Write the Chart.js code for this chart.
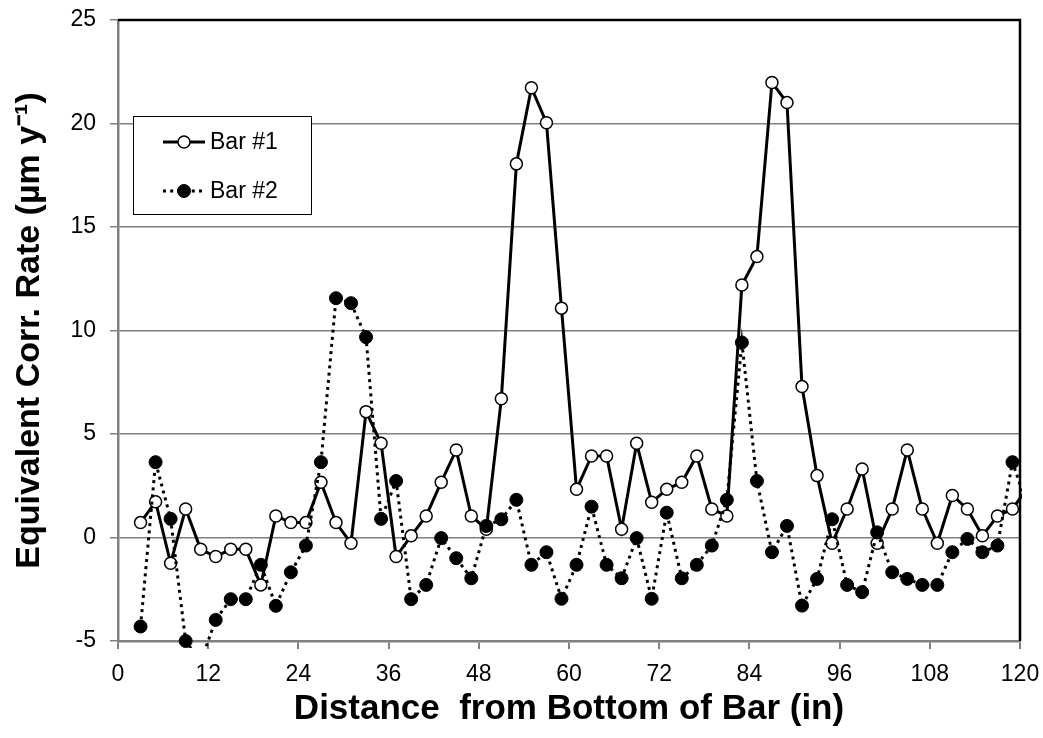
<!DOCTYPE html>
<html>
<head>
<meta charset="utf-8">
<script src="https://cdn.jsdelivr.net/npm/chart.js@4.4.1/dist/chart.umd.min.js"></script>
<style>
  html, body { margin: 0; padding: 0; background: #fff; }
  #wrap { width: 1043px; height: 738px; }
</style>
</head>
<body>
<div id="wrap"><canvas id="chartCorr"></canvas></div>
<script>
// distance from bottom of bar (in)
const distances = [3, 5, 7, 9, 11, 13, 15, 17, 19, 21, 23, 25, 27, 29, 31, 33, 35, 37, 39, 41,
  43, 45, 47, 49, 51, 53, 55, 57, 59, 61, 63, 65, 67, 69, 71, 73, 75, 77, 79, 81,
  83, 85, 87, 89, 91, 93, 95, 97, 99, 101, 103, 105, 107, 109, 111, 113, 115, 117, 119, 121];

// equivalent corrosion rate (um/y)
const bar1 = [0.72, 1.73, -1.24, 1.38, -0.57, -0.92, -0.57, -0.57, -2.29, 1.04,
  0.72, 0.72, 2.67, 0.72, -0.28, 6.08, 4.55, -0.92, 0.08, 1.04,
  2.67, 4.23, 1.04, 0.4, 6.7, 18.05, 21.73, 20.04, 11.08, 2.33,
  3.94, 3.94, 0.4, 4.55, 1.7, 2.33, 2.67, 3.94, 1.38, 1.04,
  12.2, 13.57, 21.98, 21.01, 7.29, 2.99, -0.28, 1.38, 3.31, -0.28,
  1.38, 4.23, 1.38, -0.28, 2.03, 1.38, 0.08, 1.04, 1.38, 2.4];

const bar2 = [-4.3, 3.64, 0.9, -5.0, -6.0, -3.98, -2.98, -2.98, -1.32, -3.3,
  -1.68, -0.39, 3.64, 11.56, 11.32, 9.68, 0.9, 2.73, -2.98, -2.29,
  -0.03, -1.0, -1.97, 0.56, 0.88, 1.82, -1.32, -0.71, -2.96, -1.32,
  1.49, -1.32, -1.97, -0.03, -2.96, 1.2, -1.97, -1.32, -0.39, 1.82,
  9.42, 2.73, -0.71, 0.56, -3.29, -2.0, 0.88, -2.29, -2.64, 0.25,
  -1.68, -2.0, -2.29, -2.29, -0.71, -0.07, -0.71, -0.39, 3.64, 1.5];

const seriesNames = ["Bar #1", "Bar #2"];
const xRange = [0, 120], xStep = 12;
const yRange = [-5, 25], yStep = 5;

const FONT = "'Liberation Sans', Arial, Helvetica, sans-serif";
const GRAY = "#808080";

function toPoints(vals) {
  return vals.map((v, i) => ({ x: distances[i], y: v }));
}

// black frame on top and right like the Excel plot area
const frame = {
  id: "frame",
  afterDatasetsDraw(chart) {
    const { ctx, chartArea: a } = chart;
    ctx.save();
    ctx.strokeStyle = "#000";
    ctx.lineWidth = 2.5;
    ctx.beginPath();
    ctx.moveTo(a.left, a.top);
    ctx.lineTo(a.right, a.top);
    ctx.lineTo(a.right, a.bottom);
    ctx.stroke();
    ctx.restore();
  }
};

// boxed legend inside the plot, Bar #1 first
const boxLegend = {
  id: "boxLegend",
  afterDraw(chart) {
    const { ctx, chartArea: a } = chart;
    const x = a.left + 15, y = a.top + 96, w = 178, h = 98;
    ctx.save();
    ctx.fillStyle = "#fff";
    ctx.fillRect(x, y, w, h);
    ctx.strokeStyle = "#000";
    ctx.lineWidth = 1;
    ctx.strokeRect(x + 0.5, y + 0.5, w, h);

    seriesNames.forEach((name, i) => {
      const ds = chart.data.datasets.find(d => d.label === name);
      const ly = y + 26 + i * 49;
      ctx.strokeStyle = "#000";
      ctx.lineWidth = ds.borderWidth;
      ctx.setLineDash(ds.borderDash || []);
      ctx.beginPath();
      ctx.moveTo(x + 30, ly);
      ctx.lineTo(x + 72, ly);
      ctx.stroke();
      ctx.setLineDash([]);
      ctx.beginPath();
      ctx.arc(x + 51, ly, ds.pointRadius, 0, Math.PI * 2);
      ctx.fillStyle = ds.pointBackgroundColor;
      ctx.fill();
      ctx.lineWidth = ds.pointBorderWidth;
      ctx.stroke();
      ctx.fillStyle = "#000";
      ctx.font = "23px " + FONT;
      ctx.textBaseline = "middle";
      ctx.fillText(name, x + 77, ly + 1);
    });
    ctx.restore();
  }
};

new Chart(document.getElementById("chartCorr"), {
  type: "line",
  data: {
    datasets: [
      {
        label: seriesNames[1],
        data: toPoints(bar2),
        borderColor: "#000",
        borderWidth: 3,
        borderDash: [3, 4.2],
        pointRadius: 6.5,
        pointBackgroundColor: "#000",
        pointBorderColor: "#000",
        pointBorderWidth: 1,
        order: 0,
        clip: { left: 2, right: 2, top: 8, bottom: 7 }
      },
      {
        label: seriesNames[0],
        data: toPoints(bar1),
        borderColor: "#000",
        borderWidth: 3,
        pointRadius: 6,
        pointBackgroundColor: "#fff",
        pointBorderColor: "#000",
        pointBorderWidth: 1.5,
        order: 1,
        clip: { left: 2, right: 2, top: 8, bottom: 7 }
      }
    ]
  },
  options: {
    responsive: true,
    maintainAspectRatio: false,
    animation: false,
    layout: { padding: { top: 20, right: 23, left: 0, bottom: 0 } },
    plugins: {
      legend: { display: false },
      tooltip: { enabled: false }
    },
    scales: {
      x: {
        type: "linear",
        min: xRange[0],
        max: xRange[1],
        ticks: { stepSize: xStep, color: "#000", font: { family: FONT, size: 23 }, padding: 12, maxRotation: 0 },
        grid: { drawOnChartArea: false, color: GRAY, lineWidth: 2, tickLength: 8 },
        border: { color: GRAY, width: 2.5 },
        title: {
          display: true,
          text: "Distance  from Bottom of Bar (in)",
          color: "#000",
          font: { family: FONT, size: 35, weight: "bold" },
          padding: { top: 0, bottom: 8 }
        },
        afterFit: s => { s.height = 97; s.paddingLeft = 0; s.paddingRight = 0; }
      },
      y: {
        type: "linear",
        min: yRange[0],
        max: yRange[1],
        ticks: { stepSize: yStep, color: "#000", font: { family: FONT, size: 23 }, padding: 14 },
        grid: { color: GRAY, lineWidth: 1.5, tickLength: 8 },
        border: { color: GRAY, width: 2.5 },
        title: {
          display: true,
          text: "Equivalent Corr. Rate (\u00b5m y\u207b\u00b9)",
          color: "#000",
          font: { family: FONT, size: 34, weight: "bold" },
          padding: { top: 9, bottom: 0 }
        },
        afterFit: s => { s.width = 118; s.paddingTop = 0; s.paddingBottom = 0; }
      }
    }
  },
  plugins: [frame, boxLegend]
});
</script>
</body>
</html>
